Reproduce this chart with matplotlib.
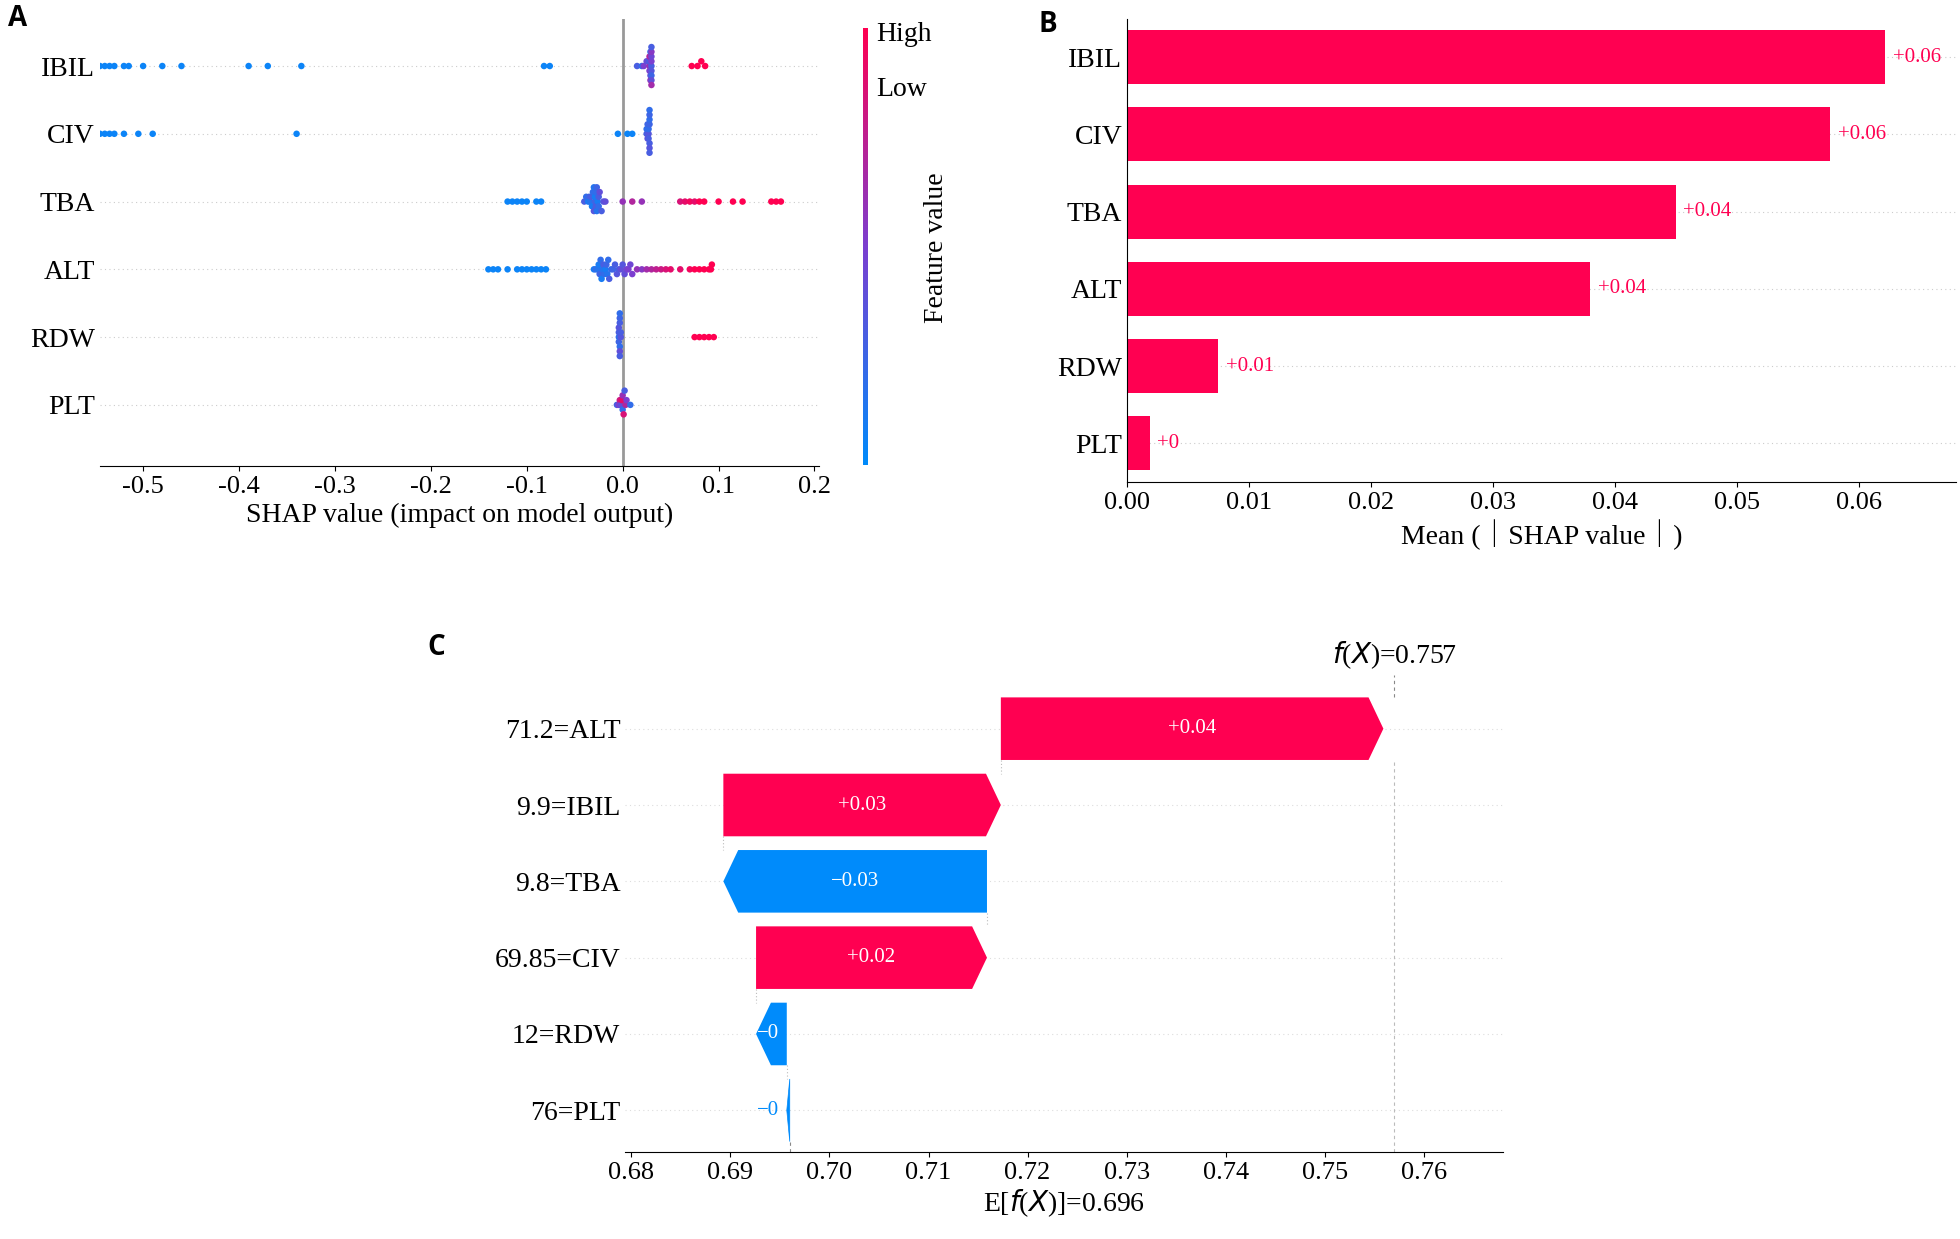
import numpy as np
import matplotlib
matplotlib.use("Agg")
import matplotlib.pyplot as plt
from matplotlib.colors import LinearSegmentedColormap

plt.rcParams['font.family'] = ['Liberation Serif', 'DejaVu Serif']
RED = '#ff0051'
BLUE = '#008bfb'
cmap = LinearSegmentedColormap.from_list('shap', [BLUE, '#7b3fd0', RED])

features = ['IBIL', 'CIV', 'TBA', 'ALT', 'RDW', 'PLT']

# --- panel A: SHAP values (x) and feature values (0=low, 1=high)
shap_x = {
    'IBIL': [-0.545, -0.54, -0.535, -0.53, -0.52, -0.515, -0.5, -0.48, -0.46, -0.39, -0.37, -0.335,
             -0.082, -0.076, 0.015, 0.02, 0.022, 0.025, 0.028, 0.028, 0.028, 0.028, 0.029, 0.029, 0.029,
             0.03, 0.03, 0.03, 0.03, 0.03, 0.03, 0.03, 0.03, 0.03, 0.072, 0.078, 0.082, 0.086],
    'CIV': [-0.565, -0.56, -0.555, -0.55, -0.545, -0.54, -0.535, -0.53, -0.52, -0.505, -0.49, -0.34,
            -0.005, 0.005, 0.01, 0.025, 0.025, 0.026, 0.026, 0.027, 0.027, 0.027, 0.028, 0.028, 0.028,
            0.028, 0.028, 0.028, 0.028],
    'TBA': [-0.12, -0.115, -0.11, -0.105, -0.1, -0.09, -0.085, -0.04, -0.038, -0.036, -0.035, -0.034,
            -0.033, -0.032, -0.031, -0.03, -0.03, -0.029, -0.029, -0.028, -0.028, -0.027, -0.027, -0.026,
            -0.025, -0.025, -0.024, -0.022, -0.02, -0.018, 0.0, 0.01, 0.02, 0.06, 0.065, 0.07, 0.075,
            0.08, 0.085, 0.1, 0.115, 0.125, 0.155, 0.16, 0.165],
    'ALT': [-0.14, -0.135, -0.13, -0.12, -0.11, -0.105, -0.1, -0.095, -0.09, -0.085, -0.08,
            -0.03, -0.028, -0.026, -0.025, -0.024, -0.023, -0.022, -0.021, -0.02, -0.019, -0.018,
            -0.017, -0.016, -0.015, -0.014, -0.012, -0.01, -0.008, -0.006, -0.004, -0.002, 0.0, 0.002,
            0.004, 0.006, 0.008, 0.01, 0.015, 0.02, 0.025, 0.03, 0.035, 0.04, 0.045, 0.05, 0.06,
            0.07, 0.075, 0.08, 0.085, 0.09, 0.092, 0.093],
    'RDW': [-0.004, -0.004, -0.004, -0.004, -0.003, -0.003, -0.003, -0.003, -0.003, -0.003,
            -0.002, -0.002, 0.075, 0.08, 0.085, 0.09, 0.095],
    'PLT': [-0.006, -0.004, -0.003, -0.002, -0.001, 0.0, 0.0, 0.001, 0.002, 0.003, 0.004, 0.008],
}
feat_v = {
    'IBIL': [0.05] * 14 + [0.3, 0.2, 0.5, 0.4, 0.6, 0.3, 0.5, 0.7, 0.4, 0.2, 0.6, 0.3, 0.5, 0.35, 0.45,
                           0.25, 0.55, 0.4, 0.3, 0.65] + [1.0] * 4,
    'CIV': [0.05] * 15 + [0.3, 0.2, 0.4, 0.25, 0.35, 0.2, 0.3, 0.25, 0.3, 0.2, 0.35, 0.25, 0.3, 0.2],
    'TBA': [0.05] * 7 + [0.3, 0.2, 0.1, 0.25, 0.15, 0.3, 0.1, 0.2, 0.35, 0.15, 0.25, 0.1, 0.3, 0.2,
                         0.15, 0.25, 0.1, 0.3, 0.2, 0.4, 0.3, 0.35, 0.4]
           + [0.6, 0.7, 0.6] + [0.85, 0.9, 0.95, 0.9, 1.0, 1.0, 1.0, 1.0, 1.0, 1.0, 1.0, 1.0],
    'ALT': [0.05] * 11 + [0.1, 0.2, 0.15, 0.1, 0.25, 0.2, 0.1, 0.15, 0.3, 0.2, 0.1, 0.25, 0.15, 0.2,
                          0.3, 0.2, 0.25, 0.3, 0.35, 0.3, 0.4, 0.35, 0.4, 0.45, 0.5, 0.45, 0.5, 0.6,
                          0.55, 0.65, 0.7, 0.75, 0.8, 0.85, 0.9] + [0.9, 0.95, 1.0, 1.0, 1.0, 1.0, 1.0, 1.0],
    'RDW': [0.2, 0.3, 0.25, 0.35, 0.2, 0.3, 0.4, 0.25, 0.3, 0.2, 0.35, 0.3, 1.0, 1.0, 1.0, 1.0, 1.0],
    'PLT': [0.3, 0.5, 0.8, 0.4, 0.9, 0.2, 0.6, 0.85, 0.3, 0.7, 0.5, 0.2],
}

# --- panel B: mean |SHAP|
mean_abs = [0.0622, 0.0577, 0.045, 0.038, 0.0075, 0.0019]
mean_lbl = ['+0.06', '+0.06', '+0.04', '+0.04', '+0.01', '+0']

# --- panel C: waterfall
wf_labels = ['71.2=ALT', '9.9=IBIL', '9.8=TBA', '69.85=CIV', '12=RDW', '76=PLT']
wf_vals = [0.0386, 0.028, -0.0266, 0.0233, -0.0031, -0.0003]
wf_text = ['+0.04', '+0.03', '\u22120.03', '+0.02', '\u22120', '\u22120']
base_value = 0.696
fx_value = 0.757

fig = plt.figure(figsize=(19.6, 12.39), dpi=100)

# ---------- A ----------
axA = fig.add_axes([0.051, 0.624, 0.367, 0.361])
n = len(features)
for i, f in enumerate(features):
    y0 = n - 1 - i
    xs = np.array(shap_x[f])
    vs = np.array(feat_v[f])
    m = min(len(xs), len(vs))
    xs, vs = xs[:m], vs[:m]
    order = np.argsort(xs, kind='stable')
    xs, vs = xs[order], vs[order]
    # simple swarm layout: stack points that fall in the same bin
    bins = np.round(xs / 0.004).astype(int)
    offs = np.zeros(len(xs))
    counts = {}
    for k, b in enumerate(bins):
        c = counts.get(b, 0)
        counts[b] = c + 1
        offs[k] = ((c + 1) // 2) * 0.07 * (1 if c % 2 else -1)
    axA.scatter(xs, y0 + offs, c=vs, cmap=cmap, vmin=0, vmax=1, s=22, zorder=3, linewidths=0)
    axA.axhline(y0, color='#cccccc', ls=(0, (1, 3)), lw=0.8, zorder=0)
axA.axvline(0, color='#999999', lw=2, zorder=1)
axA.set_yticks(range(n))
axA.set_yticklabels(features[::-1], fontsize=20)
axA.set_xlim(-0.545, 0.205)
axA.set_ylim(-0.9, n - 0.3)
axA.set_xticks([-0.5, -0.4, -0.3, -0.2, -0.1, 0.0, 0.1, 0.2])
axA.set_xticklabels(['-0.5', '-0.4', '-0.3', '-0.2', '-0.1', '0.0', '0.1', '0.2'], fontsize=19)
axA.set_xlabel('SHAP value (impact on model output)', fontsize=20)
axA.tick_params(axis='y', length=0)
for s in ['top', 'right', 'left']:
    axA.spines[s].set_visible(False)

cax = fig.add_axes([0.4405, 0.625, 0.0025, 0.352])
grad = np.linspace(0, 1, 256).reshape(-1, 1)
cax.imshow(grad, aspect='auto', cmap=cmap, origin='lower')
cax.set_xticks([]); cax.set_yticks([])
for s in cax.spines.values():
    s.set_visible(False)
fig.text(0.447, 0.972, 'High', fontsize=20, va='center')
fig.text(0.447, 0.928, 'Low', fontsize=20, va='center')
fig.text(0.478, 0.80, 'Feature value', fontsize=20, rotation=90, va='center', ha='center')

# ---------- B ----------
axB = fig.add_axes([0.575, 0.611, 0.423, 0.374])
yb = np.arange(n)[::-1]
axB.barh(yb, mean_abs, height=0.7, color=RED, zorder=2)
for y, v, t in zip(yb, mean_abs, mean_lbl):
    axB.axhline(y, color='#cccccc', ls=(0, (1, 3)), lw=0.8, zorder=0)
    axB.text(v + 0.0006, y, t, color=RED, fontsize=15, va='center')
axB.set_yticks(yb)
axB.set_yticklabels(features, fontsize=20)
axB.set_xlim(0, 0.068)
axB.set_ylim(-0.5, n - 0.5)
axB.set_xticks([0, 0.01, 0.02, 0.03, 0.04, 0.05, 0.06])
axB.set_xticklabels(['0.00', '0.01', '0.02', '0.03', '0.04', '0.05', '0.06'], fontsize=19)
axB.set_xlabel('Mean (\uff5cSHAP value\uff5c)', fontsize=20)
axB.xaxis.label.set_family(['Liberation Serif', 'Noto Sans CJK SC'])
axB.tick_params(axis='y', length=0)
for s in ['top', 'right']:
    axB.spines[s].set_visible(False)

# ---------- C ----------
axC = fig.add_axes([0.319, 0.07, 0.448, 0.385])
axC.set_xlim(0.6794, 0.768)
axC.set_ylim(-0.55, n - 0.3)
start = base_value
lefts = []
for v in wf_vals[::-1]:
    lefts.append(start)
    start += v
lefts = lefts[::-1]
hl = 0.0015
h = 0.82
for i, (v, lbl, t) in enumerate(zip(wf_vals, wf_labels, wf_text)):
    y = n - 1 - i
    axC.axhline(y, color='#dddddd', ls=(0, (1, 3)), lw=0.8, zorder=0)
    x0 = lefts[i]
    x1 = x0 + v
    col = RED if v > 0 else BLUE
    sgn = 1 if v > 0 else -1
    head = min(hl, abs(v))
    xb = x1 - sgn * head
    px = [x0, xb, x1, xb, x0]
    py = [y - h / 2, y - h / 2, y, y + h / 2, y + h / 2]
    axC.fill(px, py, color=col, lw=0.5 if abs(v) < 0.001 else 0, ec=col, zorder=2)
    if abs(v) > 0.01:
        axC.text((x0 + x1) / 2, y, t, color='white', ha='center', va='center', fontsize=15, zorder=3)
    elif abs(v) > 0.002:
        axC.text((x0 + x1) / 2 - 0.0003, y, t, color='white', ha='center', va='center', fontsize=15, zorder=3)
    else:
        axC.text(x1 - 0.0008, y, t, color=BLUE, ha='right', va='center', fontsize=15, zorder=3)
    # connector to next bar
    if i < n - 1:
        axC.plot([x0, x0], [y - h / 2, y - 1 + h / 2], color='#bbbbbb', lw=0.8, ls=(0, (1, 2)), zorder=1)
axC.plot([fx_value, fx_value], [n - 1 + h / 2, n - 0.3], color='#888888', lw=0.8, ls=(0, (3, 3)))
axC.plot([fx_value, fx_value], [-0.55, n - 1 - h / 2], color='#bbbbbb', lw=0.8, ls=(0, (3, 3)))
axC.plot([base_value, base_value], [-0.55, -h / 2], color='#888888', lw=0.8, ls=(0, (3, 3)))
axC.text(fx_value, n - 0.3 + 0.05, '$f$($X$)=0.757', fontsize=20, ha='center', va='bottom')
axC.set_yticks(range(n))
axC.set_yticklabels(wf_labels[::-1], fontsize=20)
axC.set_xticks([0.68, 0.69, 0.70, 0.71, 0.72, 0.73, 0.74, 0.75, 0.76])
axC.set_xticklabels(['0.68', '0.69', '0.70', '0.71', '0.72', '0.73', '0.74', '0.75', '0.76'], fontsize=19)
axC.set_xlabel('E[$f$($X$)]=0.696', fontsize=20, labelpad=2)
axC.tick_params(axis='y', length=0)
for s in ['top', 'right', 'left']:
    axC.spines[s].set_visible(False)

for lab, x, y in [('A', 0.004, 0.985), ('B', 0.53, 0.98), ('C', 0.218, 0.477)]:
    fig.text(x, y, lab, fontsize=20, fontweight='bold', family='Open Sans', va='center')

fig.savefig('out.png', dpi=100)
